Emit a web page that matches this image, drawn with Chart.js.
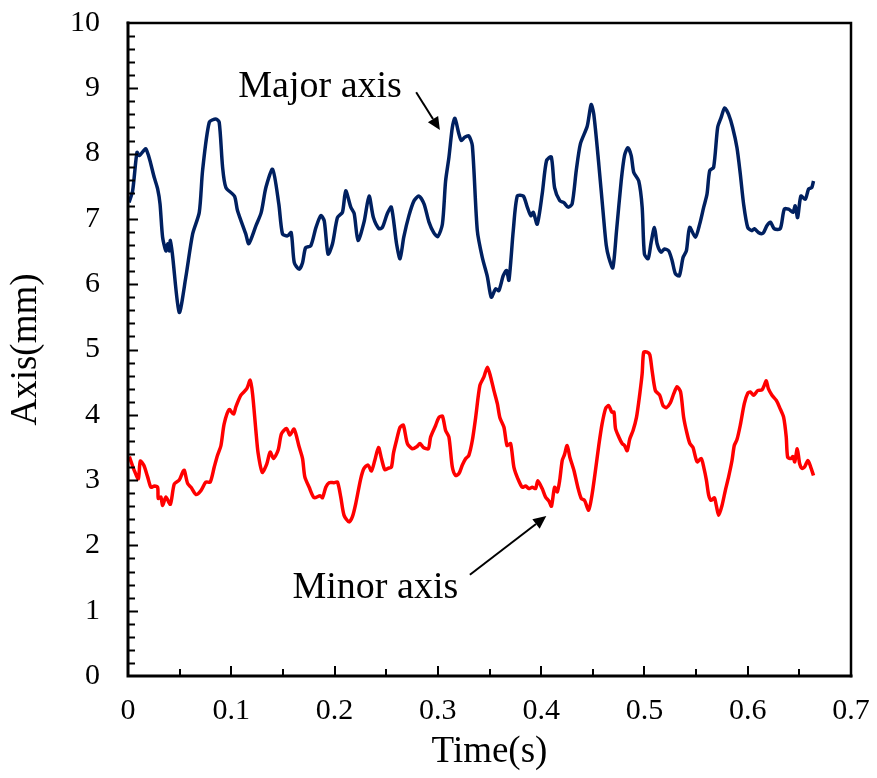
<!DOCTYPE html>
<html lang="en">
<head>
    <meta charset="UTF-8">
    <title>Major and minor axis vs time</title>
    <script src="https://cdn.jsdelivr.net/npm/chart.js"></script>
    <style>
        html, body {
            margin: 0;
            padding: 0;
            background: #fff;
        }
        #wrap {
            width: 877px;
            height: 778px;
        }
    </style>
</head>
<body>
    <div id="wrap">
        <canvas id="axisChart"></canvas>
    </div>

    <script>
        // values
        const majorTime = [0.001, 0.0045, 0.0087, 0.011, 0.0174, 0.0255, 0.0287, 0.031, 0.0335, 0.0367, 0.0384, 0.040, 0.041, 0.043, 0.0496, 0.056, 0.0626, 0.069, 0.0722, 0.0787, 0.0851, 0.0883, 0.0916, 0.0948, 0.103, 0.106, 0.114, 0.117, 0.124, 0.129, 0.1335, 0.140, 0.146, 0.1496, 0.1545, 0.158, 0.161, 0.1657, 0.169, 0.172, 0.177, 0.182, 0.1867, 0.19, 0.1937, 0.198, 0.2028, 0.2076, 0.2108, 0.2157, 0.219, 0.2227, 0.2285, 0.2334, 0.2376, 0.243, 0.2463, 0.251, 0.255, 0.260, 0.2634, 0.267, 0.272, 0.277, 0.2817, 0.2866, 0.2914, 0.296, 0.300, 0.3044, 0.3075, 0.3107, 0.314, 0.3165, 0.3204, 0.3227, 0.326, 0.330, 0.3334, 0.3382, 0.343, 0.348, 0.3517, 0.356, 0.359, 0.3633, 0.3665, 0.3688, 0.373, 0.3769, 0.3827, 0.3866, 0.39, 0.3924, 0.3962, 0.401, 0.4052, 0.4098, 0.413, 0.418, 0.422, 0.426, 0.430, 0.434, 0.438, 0.4446, 0.4484, 0.451, 0.4558, 0.460, 0.463, 0.4655, 0.4694, 0.473, 0.4775, 0.4807, 0.4839, 0.4872, 0.4897, 0.4945, 0.4978, 0.500, 0.5036, 0.5065, 0.5097, 0.5123, 0.5161, 0.5193, 0.5235, 0.5268, 0.530, 0.5338, 0.5374, 0.5406, 0.5438, 0.5493, 0.5535, 0.5574, 0.5606, 0.5632, 0.567, 0.5709, 0.5742, 0.5777, 0.5815, 0.5854, 0.5896, 0.5928, 0.596, 0.600, 0.604, 0.6064, 0.6105, 0.6148, 0.6187, 0.622, 0.6257, 0.6315, 0.6354, 0.6396, 0.6438, 0.646, 0.6483, 0.6515, 0.6557, 0.659, 0.662, 0.6637];
        const majorAxis = [7.25, 7.43, 8.02, 7.97, 8.07, 7.63, 7.46, 7.23, 6.72, 6.51, 6.62, 6.51, 6.67, 6.46, 5.57, 6.11, 6.77, 7.10, 7.74, 8.48, 8.53, 8.48, 7.79, 7.48, 7.35, 7.13, 6.77, 6.62, 6.90, 7.10, 7.48, 7.76, 7.23, 6.77, 6.74, 6.79, 6.33, 6.23, 6.33, 6.56, 6.59, 6.87, 7.05, 6.97, 6.46, 6.62, 7.02, 7.10, 7.43, 7.18, 7.08, 6.67, 6.95, 7.35, 7.02, 6.85, 6.87, 7.08, 7.18, 6.62, 6.39, 6.72, 7.05, 7.28, 7.35, 7.23, 6.95, 6.79, 6.73, 6.92, 7.58, 7.94, 8.40, 8.54, 8.30, 8.20, 8.25, 8.27, 8.12, 6.82, 6.41, 6.11, 5.80, 5.93, 5.90, 6.13, 6.21, 6.06, 6.82, 7.35, 7.35, 7.18, 7.05, 7.10, 6.92, 7.38, 7.89, 7.95, 7.48, 7.28, 7.25, 7.18, 7.23, 7.74, 8.15, 8.42, 8.75, 8.60, 7.84, 7.10, 6.60, 6.41, 6.25, 6.82, 7.58, 7.97, 8.09, 7.97, 7.71, 7.58, 7.18, 6.46, 6.39, 6.64, 6.87, 6.62, 6.49, 6.54, 6.51, 6.36, 6.16, 6.13, 6.41, 6.51, 6.87, 6.72, 6.92, 7.18, 7.38, 7.74, 7.79, 8.40, 8.55, 8.70, 8.60, 8.40, 8.09, 7.69, 7.23, 6.87, 6.82, 6.85, 6.79, 6.78, 6.90, 6.95, 6.85, 6.85, 7.15, 7.15, 7.10, 7.20, 7.02, 7.35, 7.30, 7.46, 7.48, 7.58];

        const minorTime = [0.0013, 0.006, 0.010, 0.0119, 0.0152, 0.019, 0.0222, 0.0255, 0.0287, 0.0293, 0.0319, 0.0335, 0.0367, 0.041, 0.0448, 0.0496, 0.0529, 0.0545, 0.0577, 0.061, 0.0658, 0.0706, 0.0754, 0.0796, 0.0835, 0.0867, 0.090, 0.0931, 0.098, 0.1022, 0.1044, 0.1093, 0.115, 0.1183, 0.1206, 0.1238, 0.126, 0.130, 0.1344, 0.1376, 0.1409, 0.1454, 0.1486, 0.1535, 0.1567, 0.1608, 0.1657, 0.169, 0.1712, 0.1754, 0.1802, 0.186, 0.1883, 0.1915, 0.1947, 0.1995, 0.2028, 0.206, 0.2092, 0.214, 0.2173, 0.2205, 0.2253, 0.2285, 0.2324, 0.2357, 0.2389, 0.2425, 0.2454, 0.2486, 0.2517, 0.255, 0.257, 0.260, 0.2634, 0.2666, 0.2705, 0.2753, 0.2795, 0.2827, 0.286, 0.2908, 0.293, 0.2979, 0.301, 0.3044, 0.3075, 0.3107, 0.314, 0.3172, 0.3204, 0.3237, 0.327, 0.330, 0.3334, 0.3366, 0.3407, 0.3446, 0.348, 0.3511, 0.3543, 0.3576, 0.360, 0.364, 0.367, 0.3704, 0.3736, 0.3775, 0.3817, 0.385, 0.388, 0.3914, 0.3946, 0.3968, 0.401, 0.4043, 0.4075, 0.410, 0.413, 0.4156, 0.418, 0.4204, 0.4226, 0.4252, 0.4278, 0.4317, 0.4355, 0.4388, 0.442, 0.446, 0.4494, 0.4526, 0.4558, 0.459, 0.4625, 0.4655, 0.4685, 0.4705, 0.472, 0.4752, 0.4784, 0.4807, 0.4833, 0.4858, 0.489, 0.4923, 0.4955, 0.4978, 0.4993, 0.5026, 0.5052, 0.5074, 0.5106, 0.5148, 0.518, 0.5213, 0.525, 0.5283, 0.5316, 0.535, 0.538, 0.5413, 0.544, 0.547, 0.551, 0.555, 0.5574, 0.560, 0.5622, 0.5645, 0.5677, 0.5696, 0.5719, 0.5751, 0.5783, 0.5815, 0.5848, 0.587, 0.5896, 0.5928, 0.5967, 0.600, 0.6025, 0.6058, 0.6096, 0.6138, 0.616, 0.618, 0.620, 0.6235, 0.6277, 0.6315, 0.6348, 0.6373, 0.6387, 0.642, 0.6438, 0.6455, 0.648, 0.6503, 0.6525, 0.655, 0.6583, 0.661, 0.6637];
        const minorAxis = [3.36, 3.15, 3.02, 3.29, 3.23, 3.05, 2.89, 2.91, 2.89, 2.72, 2.74, 2.61, 2.74, 2.63, 2.94, 3.00, 3.12, 3.15, 2.95, 2.89, 2.78, 2.84, 2.97, 2.97, 3.20, 3.38, 3.53, 3.86, 4.08, 4.01, 4.12, 4.30, 4.40, 4.53, 4.32, 3.76, 3.41, 3.12, 3.25, 3.43, 3.33, 3.46, 3.71, 3.79, 3.69, 3.78, 3.51, 3.33, 3.05, 2.89, 2.73, 2.76, 2.73, 2.89, 2.96, 2.96, 2.97, 2.74, 2.46, 2.36, 2.44, 2.64, 3.02, 3.18, 3.23, 3.14, 3.30, 3.50, 3.33, 3.16, 3.18, 3.20, 3.41, 3.61, 3.81, 3.84, 3.56, 3.48, 3.51, 3.56, 3.50, 3.48, 3.66, 3.84, 3.96, 3.98, 3.76, 3.66, 3.20, 3.07, 3.10, 3.23, 3.33, 3.38, 3.61, 3.96, 4.45, 4.58, 4.73, 4.58, 4.37, 4.17, 3.96, 3.81, 3.53, 3.56, 3.20, 3.02, 2.89, 2.91, 2.87, 2.89, 2.87, 2.99, 2.87, 2.74, 2.68, 2.60, 2.89, 2.82, 3.00, 3.30, 3.39, 3.53, 3.35, 3.15, 2.89, 2.72, 2.69, 2.54, 2.79, 3.15, 3.53, 3.86, 4.10, 4.14, 4.04, 4.04, 3.79, 3.66, 3.56, 3.53, 3.45, 3.63, 3.76, 3.96, 4.32, 4.63, 4.96, 4.96, 4.92, 4.68, 4.37, 4.30, 4.14, 4.11, 4.18, 4.32, 4.43, 4.35, 3.96, 3.71, 3.56, 3.50, 3.28, 3.33, 3.20, 3.00, 2.77, 2.69, 2.73, 2.61, 2.46, 2.61, 2.84, 3.05, 3.30, 3.53, 3.62, 3.84, 4.17, 4.33, 4.35, 4.30, 4.37, 4.38, 4.45, 4.52, 4.40, 4.30, 4.22, 4.09, 3.96, 3.66, 3.35, 3.33, 3.36, 3.28, 3.48, 3.25, 3.18, 3.20, 3.30, 3.20, 3.07];

        const serif = '"Liberation Serif", "Times New Roman", serif';

        function toPoints(xs, ys) {
            return xs.map((x, i) => ({ x: x, y: ys[i] }));
        }

        // frame, inward tick marks, labels with arrows
        const decorations = {
            id: 'decorations',
            afterDraw(chart) {
                const ctx = chart.ctx;
                const area = chart.chartArea;
                const xs = chart.scales.x;
                const ys = chart.scales.y;

                ctx.save();
                ctx.strokeStyle = '#000';
                ctx.lineCap = 'square';

                // top and right sides of the box
                ctx.lineWidth = 2.5;
                ctx.beginPath();
                ctx.moveTo(area.left, area.top);
                ctx.lineTo(area.right, area.top);
                ctx.lineTo(area.right, area.bottom);
                ctx.stroke();

                // left and bottom axis lines
                ctx.lineWidth = 3;
                ctx.beginPath();
                ctx.moveTo(area.left, area.top);
                ctx.lineTo(area.left, area.bottom);
                ctx.lineTo(area.right, area.bottom);
                ctx.stroke();

                // ticks pointing into the plot
                ctx.lineWidth = 2;
                ctx.lineCap = 'butt';
                ctx.beginPath();
                for (let i = 1; i < 50; i++) {
                    const py = Math.round(ys.getPixelForValue(i * 0.2)) + 0.5;
                    const len = i % 5 === 0 ? 10 : 7;
                    ctx.moveTo(area.left, py);
                    ctx.lineTo(area.left + len, py);
                }
                for (let i = 1; i < 14; i++) {
                    const px = Math.round(xs.getPixelForValue(i * 0.05));
                    const len = i % 2 === 0 ? 10 : 7;
                    ctx.moveTo(px, area.bottom);
                    ctx.lineTo(px, area.bottom - len);
                }
                ctx.stroke();

                // annotations
                ctx.fillStyle = '#000';
                ctx.font = '38px ' + serif;
                ctx.textAlign = 'center';
                ctx.textBaseline = 'alphabetic';
                ctx.fillText('Major axis', xs.getPixelForValue(0.186), ys.getPixelForValue(8.87));
                ctx.fillText('Minor axis', xs.getPixelForValue(0.2395), ys.getPixelForValue(1.19));

                arrow(ctx, xs.getPixelForValue(0.279), ys.getPixelForValue(8.94),
                           xs.getPixelForValue(0.302), ys.getPixelForValue(8.36));
                arrow(ctx, xs.getPixelForValue(0.331), ys.getPixelForValue(1.55),
                           xs.getPixelForValue(0.405), ys.getPixelForValue(2.45));
                ctx.restore();
            }
        };

        function arrow(ctx, x1, y1, x2, y2) {
            const ang = Math.atan2(y2 - y1, x2 - x1);
            const head = 13, half = 6;
            const bx = x2 - head * Math.cos(ang);
            const by = y2 - head * Math.sin(ang);
            ctx.lineWidth = 2;
            ctx.beginPath();
            ctx.moveTo(x1, y1);
            ctx.lineTo(bx, by);
            ctx.stroke();
            ctx.beginPath();
            ctx.moveTo(x2, y2);
            ctx.lineTo(bx + half * Math.sin(ang), by - half * Math.cos(ang));
            ctx.lineTo(bx - half * Math.sin(ang), by + half * Math.cos(ang));
            ctx.closePath();
            ctx.fill();
        }

        const chart = new Chart(document.getElementById('axisChart'), {
            type: 'scatter',
            data: {
                datasets: [
                    {
                        label: 'Major axis',
                        data: toPoints(majorTime, majorAxis),
                        showLine: true,
                        borderColor: '#002060',
                        borderWidth: 3.5,
                        pointRadius: 0,
                        tension: 0.25
                    },
                    {
                        label: 'Minor axis',
                        data: toPoints(minorTime, minorAxis),
                        showLine: true,
                        borderColor: '#ff0000',
                        borderWidth: 3.5,
                        pointRadius: 0,
                        tension: 0.25
                    }
                ]
            },
            options: {
                responsive: true,
                maintainAspectRatio: false,
                animation: false,
                layout: {
                    padding: { left: 0, right: 26, top: 23, bottom: 0 }
                },
                plugins: {
                    legend: { display: false },
                    tooltip: { enabled: false }
                },
                scales: {
                    x: {
                        type: 'linear',
                        min: 0,
                        max: 0.7,
                        grid: { display: false, drawTicks: false },
                        border: { display: false },
                        ticks: {
                            stepSize: 0.1,
                            padding: 17,
                            color: '#000',
                            font: { family: serif, size: 30 },
                            maxRotation: 0,
                            callback: (v) => String(+v.toFixed(2))
                        },
                        title: {
                            display: true,
                            text: 'Time(s)',
                            color: '#000',
                            font: { family: serif, size: 37 },
                            padding: { top: 0, bottom: 4 }
                        },
                        afterFit: (scale) => {
                            scale.height = 102;
                            scale.paddingLeft = 0;
                            scale.paddingRight = 0;
                        }
                    },
                    y: {
                        min: 0,
                        max: 10,
                        grid: { display: false, drawTicks: false },
                        border: { display: false },
                        ticks: {
                            stepSize: 1,
                            padding: 28,
                            color: '#000',
                            font: { family: serif, size: 30 }
                        },
                        title: {
                            display: true,
                            text: 'Axis(mm)',
                            color: '#000',
                            font: { family: serif, size: 37 },
                            padding: { top: 4, bottom: 0 }
                        },
                        afterFit: (scale) => {
                            scale.width = 128;
                            scale.paddingTop = 0;
                            scale.paddingBottom = 0;
                        }
                    }
                }
            },
            plugins: [decorations]
        });
    </script>
</body>
</html>
